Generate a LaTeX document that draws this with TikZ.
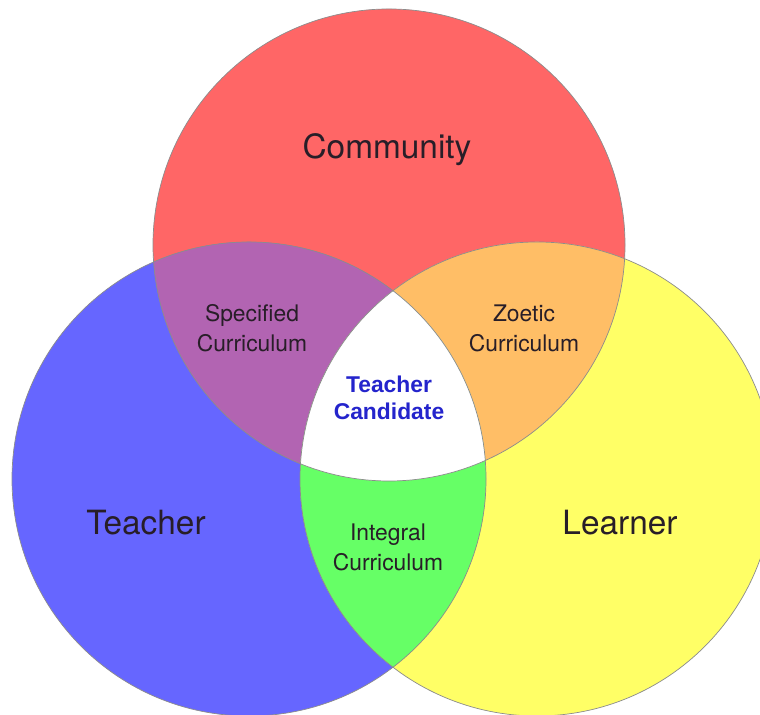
\documentclass[tikz,border=0pt]{standalone}
\usepackage{fontspec}
\setmainfont{TeX Gyre Heros}
\newfontfamily\arialfont{Liberation Sans}
\usetikzlibrary{positioning}
\definecolor{commred}{RGB}{255,102,102}
\definecolor{teachblue}{RGB}{102,102,255}
\definecolor{learnyellow}{RGB}{255,255,102}
\definecolor{specpurple}{RGB}{178,100,178}
\definecolor{zoeorange}{RGB}{255,190,102}
\definecolor{intgreen}{RGB}{102,255,102}
\definecolor{candblue}{RGB}{36,36,204}
\definecolor{ink}{RGB}{40,30,40}

\begin{document}
\begin{tikzpicture}[x=0.02cm,y=0.02cm,
    ring/.style={draw=black!45,line width=0.4pt},
    setname/.style={font=\fontsize{19}{22}\selectfont,text=ink},
    overlap/.style={align=center,font=\fontsize{13}{17}\selectfont,text=ink},
    core/.style={align=center,font=\arialfont\bfseries\fontsize{13}{15.5}\selectfont,
                 text=candblue}]
    \fill[white] (0,0) rectangle (760,715);
    \useasboundingbox (0,0) rectangle (760,715);
    \coordinate (cc) at (389,470);
    \coordinate (tc) at (249,236);
    \coordinate (lc) at (537,236);

    % the three sets
    \fill[commred] (cc) circle[radius=236];
    \fill[teachblue] (tc) circle[radius=237];
    \fill[learnyellow] (lc) circle[radius=237];

    % overlaps
    \begin{scope}
        \clip (cc) circle[radius=236];
        \fill[specpurple] (tc) circle[radius=237];
        \fill[zoeorange] (lc) circle[radius=237];
    \end{scope}
    \begin{scope}
        \clip (tc) circle[radius=237];
        \fill[intgreen] (lc) circle[radius=237];
        \clip (lc) circle[radius=237];
        \fill[white] (cc) circle[radius=236];
    \end{scope}

    \draw[ring] (cc) circle[radius=236];
    \draw[ring] (tc) circle[radius=237];
    \draw[ring] (lc) circle[radius=237];

    \node[setname] (community) at (387,565) {Community};
    \node[setname] (teacher) at (146,192) {Teacher};
    \node[setname] (learner) at (620,192) {Learner};
    \node[overlap] (specified) at (252,387) {Specified\\Curriculum};
    \node[overlap] (zoetic) at (524,387) {Zoetic\\Curriculum};
    \node[overlap] (integral) at (388,168) {Integral\\Curriculum};
    \node[core] (candidate) at (389,317) {Teacher\\Candidate};
\end{tikzpicture}
\end{document}
